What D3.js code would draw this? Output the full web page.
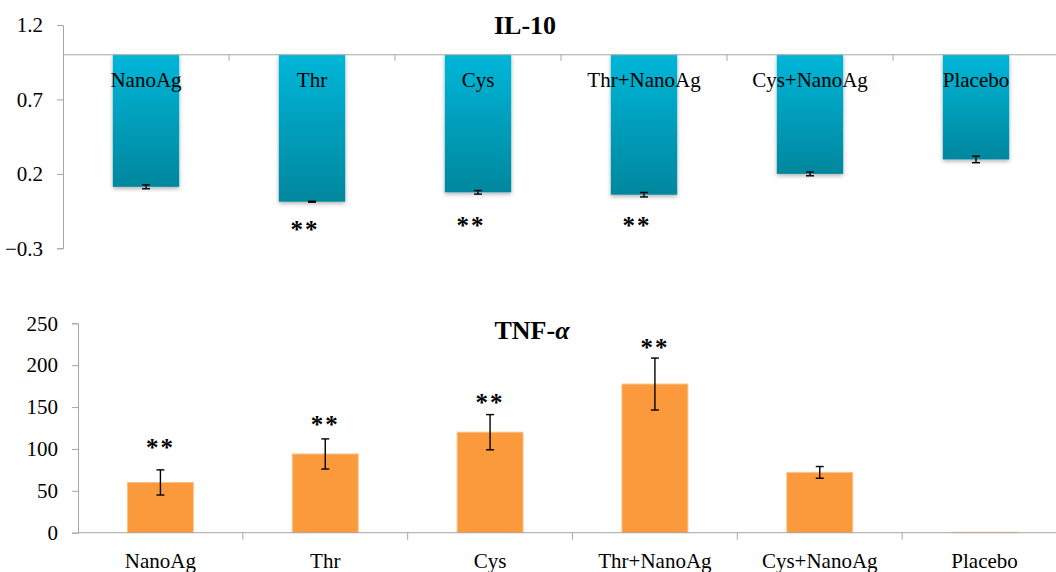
<!DOCTYPE html>
<html>
<head>
<meta charset="utf-8">
<script src="https://cdn.jsdelivr.net/npm/d3@7"></script>
<style>
  body { margin: 0; background: #fff; }
  svg { display: block; }
  .axis path, .axis line { stroke: #a6a6a6; }
  .axis text { font-family: "Liberation Serif", serif; font-size: 21px; fill: #000; }
</style>
</head>
<body>
<svg width="1056" height="572"></svg>
<script>
// groupes
var groupes = ["NanoAg", "Thr", "Cys", "Thr+NanoAg", "Cys+NanoAg", "Placebo"];

// IL-10 (barres pendantes depuis 1.0)
var il10 = [0.113, 0.013, 0.076, 0.060, 0.200, 0.297];
var il10Err = [0.013, 0.003, 0.012, 0.015, 0.013, 0.022];
var il10Ticks = [-0.3, 0.2, 0.7, 1.2];
var il10Stars = [null, -0.164, -0.133, -0.133, null, null];

// TNF-alpha
var tnf = [60, 94, 120, 177.5, 72, 0.5];
var tnfErr = [15, 18, 21, 31, 7, 0];
var tnfTicks = [0, 50, 100, 150, 200, 250];
var tnfStars = [104, 131, 158, 223, null, null];

var svg = d3.select("svg");

var defs = svg.append("defs");
var grad = defs.append("linearGradient").attr("id", "bleu")
    .attr("x1", 0).attr("y1", 0).attr("x2", 0).attr("y2", 1);
grad.append("stop").attr("offset", "0%").attr("stop-color", "#00b6d8");
grad.append("stop").attr("offset", "100%").attr("stop-color", "#00879e");
var ombre = defs.append("filter").attr("id", "ombre")
    .attr("x", "-20%").attr("y", "-5%").attr("width", "140%").attr("height", "115%");
ombre.append("feDropShadow").attr("dx", 0).attr("dy", 2).attr("stdDeviation", 2)
    .attr("flood-color", "#000").attr("flood-opacity", 0.3);

function barresErreur(g, x, y, vals, errs) {
    var eb = g.append("g").attr("stroke", "#000").attr("stroke-width", 1.4);
    groupes.forEach(function(k, i) {
        if (!errs[i]) return;
        var cx = x(k) + x.bandwidth() / 2;
        var y1 = y(vals[i] + errs[i]), y2 = y(vals[i] - errs[i]);
        eb.append("line").attr("x1", cx).attr("x2", cx).attr("y1", y1).attr("y2", y2);
        eb.append("line").attr("x1", cx - 4).attr("x2", cx + 4).attr("y1", y1).attr("y2", y1);
        eb.append("line").attr("x1", cx - 4).attr("x2", cx + 4).attr("y1", y2).attr("y2", y2);
    });
}

function etoiles(g, x, y, stars, dx) {
    g.selectAll(".star")
        .data(groupes.filter(function(k, i) { return stars[i] !== null; }))
        .enter().append("text")
        .attr("x", function(d) { return x(d) + x.bandwidth() / 2 + dx; })
        .attr("y", function(d) { return y(stars[groupes.indexOf(d)]); })
        .attr("dy", "0.41em")
        .attr("text-anchor", "middle")
        .style("font", "bold 25px 'Liberation Serif', serif")
        .style("letter-spacing", "2px")
        .text("**");
}

/* ---- IL-10 ---- */
(function() {
    var left = 63, right = 1059, top = 25, bottom = 248.3;
    var x = d3.scaleBand().domain(groupes).range([left, right]).paddingInner(0.6).paddingOuter(0.3);
    var xt = d3.scaleBand().domain(groupes).range([left, right]);
    var y = d3.scaleLinear().domain([-0.3, 1.2]).range([bottom, top]);
    var g = svg.append("g");

    g.append("g").attr("class", "axis")
        .attr("transform", "translate(" + left + ",0)")
        .call(d3.axisLeft(y).tickValues(il10Ticks).tickSize(6).tickPadding(14).tickFormat(d3.format(".1f")));

    g.selectAll(".bar").data(groupes).enter().append("rect")
        .attr("x", function(d) { return x(d); })
        .attr("width", x.bandwidth())
        .attr("y", y(1.0))
        .attr("height", function(d, i) { return y(il10[i]) - y(1.0); })
        .attr("fill", "url(#bleu)")
        .attr("filter", "url(#ombre)");

    var ax = g.append("g").attr("class", "axis")
        .attr("transform", "translate(0," + y(1.0) + ")")
        .call(d3.axisBottom(xt).tickSize(0).tickFormat(""));
    ax.select(".domain").attr("d", "M" + left + ",0H1056");
    ax.selectAll(".tick").remove();
    ax.selectAll(".sep").data(d3.range(1, groupes.length)).enter().append("line")
        .attr("x1", function(i) { return xt(groupes[i]); })
        .attr("x2", function(i) { return xt(groupes[i]); })
        .attr("y1", 0).attr("y2", 6);

    g.selectAll(".lab").data(groupes).enter().append("text")
        .attr("x", function(d) { return xt(d) + xt.bandwidth() / 2; })
        .attr("y", 87)
        .attr("text-anchor", "middle")
        .style("font", "21px 'Liberation Serif', serif")
        .text(function(d) { return d; });

    barresErreur(g, x, y, il10, il10Err);
    etoiles(g, x, y, il10Stars, -7);

    g.append("text").attr("x", 525).attr("y", 33.5).attr("text-anchor", "middle")
        .style("font", "bold 26px 'Liberation Serif', serif").text("IL-10");
})();

/* ---- TNF-alpha ---- */
(function() {
    var left = 78, right = 1067, top = 323.3, bottom = 532.7;
    var x = d3.scaleBand().domain(groupes).range([left, right]).paddingInner(0.6).paddingOuter(0.3);
    var xt = d3.scaleBand().domain(groupes).range([left, right]);
    var y = d3.scaleLinear().domain([0, 250]).range([bottom, top]);
    var g = svg.append("g");

    g.append("g").attr("class", "axis")
        .attr("transform", "translate(" + left + ",0)")
        .call(d3.axisLeft(y).tickValues(tnfTicks).tickSize(6).tickPadding(14));

    g.selectAll(".bar").data(groupes).enter().append("rect")
        .attr("x", function(d) { return x(d); })
        .attr("width", x.bandwidth())
        .attr("y", function(d, i) { return y(tnf[i]); })
        .attr("height", function(d, i) { return y(0) - y(tnf[i]); })
        .attr("fill", "#fa9a3c")
        .attr("stroke", "#fcc28a").attr("stroke-width", 1);

    var ax = g.append("g").attr("class", "axis")
        .attr("transform", "translate(0," + y(0) + ")")
        .call(d3.axisBottom(xt).tickSize(0).tickPadding(20));
    ax.select(".domain").attr("d", "M" + left + ",0H1056");
    ax.selectAll(".sep").data(d3.range(1, groupes.length)).enter().append("line")
        .attr("x1", function(i) { return xt(groupes[i]); })
        .attr("x2", function(i) { return xt(groupes[i]); })
        .attr("y1", 0).attr("y2", 7);

    barresErreur(g, x, y, tnf, tnfErr);
    etoiles(g, x, y, tnfStars, 0);

    var t = g.append("text").attr("x", 532).attr("y", 338.5).attr("text-anchor", "middle")
        .style("font", "bold 26px 'Liberation Serif', serif");
    t.append("tspan").text("TNF-");
    t.append("tspan").style("font-style", "italic").text("α");
})();
</script>
</body>
</html>
